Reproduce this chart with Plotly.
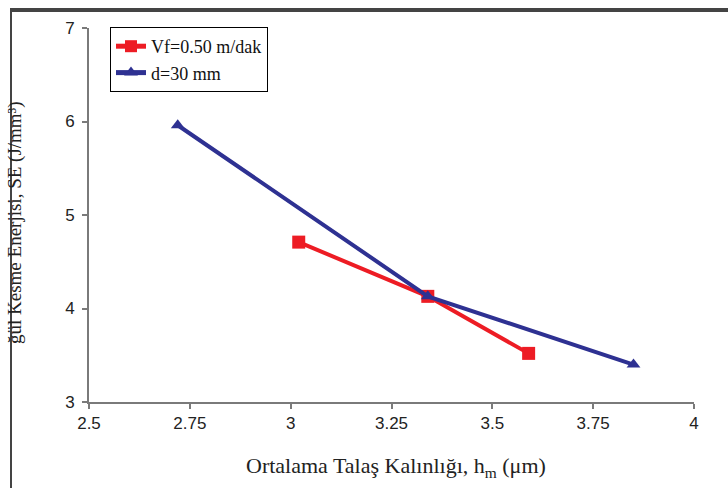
import plotly.graph_objects as go

# Data
red_name = "Vf=0.50 m/dak"
red_x = [3.02, 3.34, 3.59]
red_y = [4.71, 4.13, 3.52]

blue_name = "d=30 mm"
blue_x = [2.72, 3.34, 3.85]
blue_y = [5.96, 4.13, 3.40]

x_ticks = [2.5, 2.75, 3, 3.25, 3.5, 3.75, 4]
x_tick_labels = ["2.5", "2.75", "3", "3.25", "3.5", "3.75", "4"]
y_ticks = [3, 4, 5, 6, 7]

x_title = "Ortalama Talaş Kalınlığı, h<sub>m</sub> (μm)"
y_title = "ğül Kesme Enerjisi, SE (J/mm³)"

RED = "#ED1C24"
BLUE = "#2E3192"

fig = go.Figure()
fig.add_trace(go.Scatter(
    x=red_x, y=red_y, name=red_name, mode="lines+markers",
    line=dict(color=RED, width=4),
    marker=dict(symbol="square", size=13, color=RED),
))
fig.add_trace(go.Scatter(
    x=blue_x, y=blue_y, name=blue_name, mode="lines+markers",
    line=dict(color=BLUE, width=4),
    marker=dict(symbol="triangle-up", size=12, color=BLUE),
))

L, R, T, B = 89, 34, 28, 86
W, H = 728, 488
pw, ph = W - L - R, H - T - B

def px_to_paper_x(px):
    return (px - L) / pw

def px_to_paper_y(py):
    return (H - B - py) / ph

axis_common = dict(
    showline=True, linecolor="#7a7a7a", linewidth=2,
    ticks="outside", ticklen=5, tickcolor="#7a7a7a", tickwidth=1.5,
    showgrid=False, zeroline=False,
    tickfont=dict(family="Liberation Sans", size=17, color="#222222"),
)

fig.update_layout(
    width=W, height=H,
    margin=dict(l=L, r=R, t=T, b=B),
    paper_bgcolor="white", plot_bgcolor="white",
    xaxis=dict(range=[2.5, 4], tickvals=x_ticks, ticktext=x_tick_labels, **axis_common),
    yaxis=dict(range=[3, 7], tickvals=y_ticks, ticklabelstandoff=4, **axis_common),
    showlegend=True,
    legend=dict(
        x=px_to_paper_x(110), y=px_to_paper_y(27), xanchor="left", yanchor="top",
        bgcolor="white", bordercolor="black", borderwidth=1,
        font=dict(family="Liberation Serif", size=18, color="#111"),
        tracegroupgap=0, itemsizing="constant",
    ),
    annotations=[
        dict(
            text=y_title, xref="paper", yref="paper",
            x=px_to_paper_x(15), y=px_to_paper_y(223),
            xanchor="center", yanchor="middle", textangle=-90, showarrow=False,
            font=dict(family="Liberation Serif", size=19, color="#222"),
        ),
        dict(
            text=x_title, xref="paper", yref="paper",
            x=px_to_paper_x(396), y=px_to_paper_y(467),
            xanchor="center", yanchor="middle", showarrow=False,
            font=dict(family="Liberation Serif", size=22, color="#222"),
        ),
    ],
    shapes=[
        dict(type="rect", xref="paper", yref="paper",
             x0=px_to_paper_x(10), x1=px_to_paper_x(12),
             y0=px_to_paper_y(500), y1=px_to_paper_y(8),
             line=dict(width=0), fillcolor="#444444"),
        dict(type="rect", xref="paper", yref="paper",
             x0=px_to_paper_x(10), x1=px_to_paper_x(728),
             y0=px_to_paper_y(12), y1=px_to_paper_y(8),
             line=dict(width=0), fillcolor="#444444"),
    ],
)

fig.write_html("out.html", config={"displayModeBar": False},
               post_script="document.body.style.margin='0';")
